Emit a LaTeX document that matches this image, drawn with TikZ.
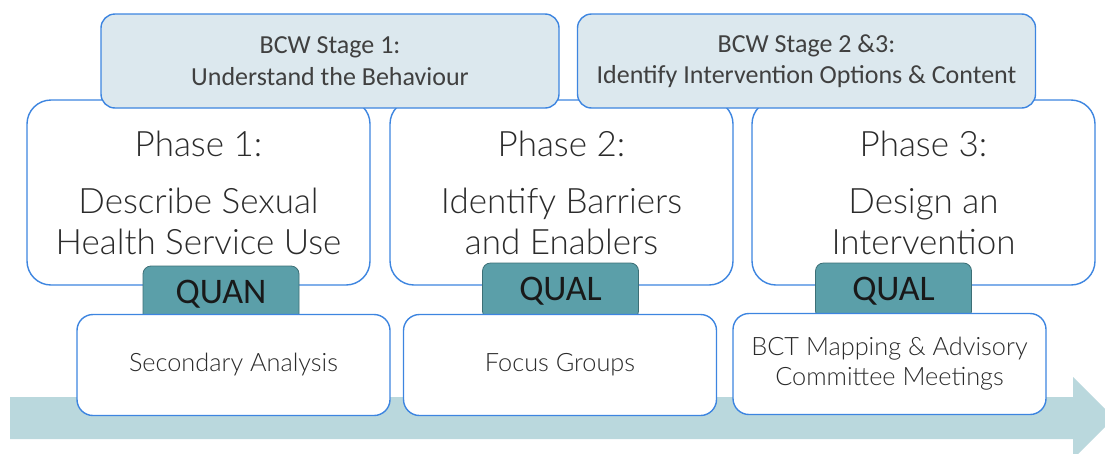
\documentclass[tikz,border=0pt]{standalone}
\usepackage{fontspec}
\setmainfont{Carlito}
\newfontfamily\lightfont{Lato}[UprightFont={* Light}]
\usetikzlibrary{positioning}

\definecolor{bcwblue}{HTML}{3D85E0}
\definecolor{stagefill}{HTML}{DCE8EE}
\definecolor{tabfill}{HTML}{5B9FA9}
\definecolor{tabline}{HTML}{3C6F76}
\definecolor{flowfill}{HTML}{BAD8DD}
\definecolor{txt}{HTML}{2B2B2B}

\begin{document}
\begin{tikzpicture}[x=1pt,y=-1pt,
% Box styles
    phase/.style={rectangle,rounded corners=24pt,draw=bcwblue,line width=1.4pt,
		fill=white,minimum width=343pt,minimum height=185pt,align=center,
		text=txt,font={\lightfont\fontsize{35pt}{41pt}\selectfont}},
    stage/.style={rectangle,rounded corners=14pt,draw=bcwblue,line width=1.4pt,
		fill=stagefill,minimum width=458pt,minimum height=94pt,align=center,
		text=txt!90,font={\fontsize{26pt}{30pt}\selectfont}},
    tab/.style={rectangle,rounded corners=8pt,draw=tabline,line width=0.8pt,
		fill=tabfill,minimum width=156pt,minimum height=56pt,
		text=black!90,font={\fontsize{36pt}{40pt}\selectfont}},
    method/.style={rectangle,rounded corners=16pt,draw=bcwblue,line width=1.4pt,
		fill=white,minimum width=313pt,minimum height=101pt,align=center,
		text=txt,font={\lightfont\fontsize{25.3pt}{30pt}\selectfont}}
    ]
  \clip (0,0) rectangle (1105,453);

  % timeline arrow
  \fill[flowfill] (10,397) -- (1073,397) -- (1073,377) -- (1114,418)
    -- (1073,459) -- (1073,439) -- (10,439) -- cycle;

  % phases
  \node (phase1) [phase] at (198.5,192.5) {Phase 1:\\[16pt]Describe Sexual\\Health Service Use};
  \node (phase2) [phase] at (561.5,192.5) {Phase 2:\\[16pt]Identify Barriers\\and Enablers};
  \node (phase3) [phase] at (923.5,192.5) {Phase 3:\\[16pt]Design an\\Intervention};

  % BCW stages
  \node (stage1) [stage] at (330,61) {\raisebox{1.5pt}{BCW Stage 1:}\\Understand the Behaviour};
  \node (stage2) [stage] at (806.5,61) {\raisebox{1.5pt}{BCW Stage 2 \&3:}\\Identify Intervention Options \& Content};

  % methods
  \node (tab1) [tab] at (221,294) {QUAN};
  \node (tab2) [tab] at (560.5,291) {QUAL};
  \node (tab3) [tab] at (893.5,291) {QUAL};

  \node (method1) [method] at (233.5,365) {Secondary Analysis};
  \node (method2) [method] at (560,365) {Focus Groups};
  \node (method3) [method] at (889.5,364) {BCT Mapping \& Advisory\\Committee Meetings};

\end{tikzpicture}
\end{document}
